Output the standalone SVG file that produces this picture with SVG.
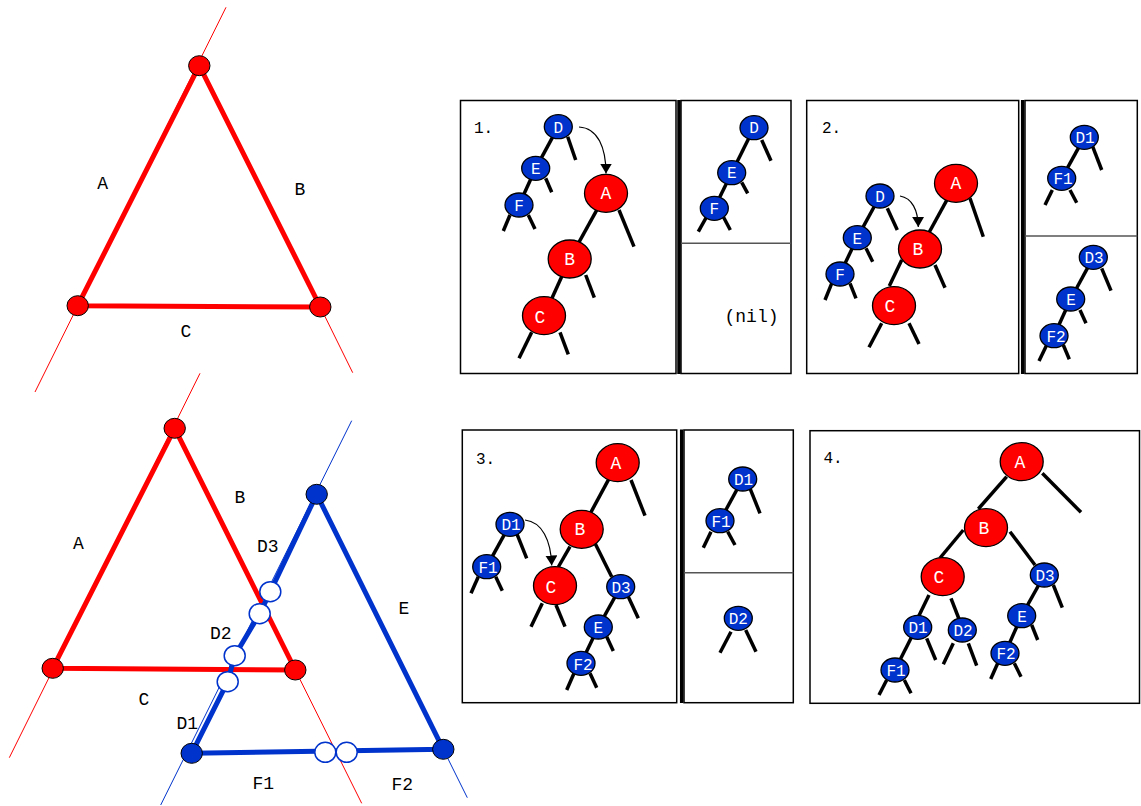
<svg xmlns="http://www.w3.org/2000/svg" width="1141" height="806" viewBox="0 0 1141 806">
<style>
.tr{stroke:#f00;stroke-width:1;fill:none}
.tb{stroke:#0033cc;stroke-width:1;fill:none}
.re{stroke:#f00;stroke-width:5;fill:none;stroke-linejoin:round}
.be{stroke:#0033cc;stroke-width:5;fill:none;stroke-linejoin:round}
.rv{fill:#f00;stroke:#000;stroke-width:1}
.bv{fill:#0033cc;stroke:#000;stroke-width:1}
.ho{fill:#fff;stroke:#0033cc;stroke-width:1.5}
.lb{font-family:"Liberation Mono",monospace;font-size:18px;fill:#000;text-anchor:middle}
.pn{fill:#fff;stroke:#000;stroke-width:1.5}
.sp{stroke:#000;stroke-width:3.5}
.dv{stroke:#555;stroke-width:1.5}
.e{stroke:#000;stroke-width:3.5;fill:none}
.sn{fill:#0033cc;stroke:#000;stroke-width:1.3}
.bn{fill:#f00;stroke:#000;stroke-width:1.3}
.nt{font-family:"Liberation Mono",monospace;font-size:16px;fill:#fff;text-anchor:middle}
.bt{font-family:"Liberation Mono",monospace;font-size:18px;fill:#fff;text-anchor:middle}
.num{font-family:"Liberation Mono",monospace;font-size:16px;fill:#000}
.arr{fill:none;stroke:#000;stroke-width:1.2;marker-end:url(#ah)}
</style>
<defs>
<marker id="ah" viewBox="0 0 10 12" refX="10" refY="6" markerWidth="10" markerHeight="12" markerUnits="userSpaceOnUse" orient="auto"><path d="M0,0 L10,6 L0,12 z" fill="#000"/></marker>
</defs>
<rect width="1141" height="806" fill="#fff"/>

<!-- Top-left triangle -->
<g id="tri1-connectors">
<line class="tr" x1="226" y1="7.3" x2="35" y2="392"/>
<line class="tr" x1="320.3" y1="307" x2="352.7" y2="372.7"/>
<polygon class="re" points="199.3,65.7 77.7,305.7 320.3,307"/>
</g>
<g id="tri1-top"><ellipse class="rv" cx="199.3" cy="65.7" rx="10.7" ry="10"/></g>
<g id="tri1-left"><ellipse class="rv" cx="77.7" cy="305.7" rx="10.7" ry="10"/></g>
<g id="tri1-right"><ellipse class="rv" cx="320.3" cy="307" rx="10.7" ry="10"/></g>
<g id="tri1-labels">
<text class="lb" x="102.7" y="188.5">A</text>
<text class="lb" x="300" y="194.5">B</text>
<text class="lb" x="186" y="337">C</text>
</g>

<!-- Bottom-left triangles -->
<g id="tri2-connectors">
<line class="tr" x1="200" y1="373.3" x2="9.3" y2="757.7"/>
<line class="tr" x1="295.3" y1="670" x2="361.7" y2="803.3"/>
<line class="tb" x1="351.7" y1="420.7" x2="160.7" y2="805"/>
<line class="tb" x1="443.3" y1="749.3" x2="467.3" y2="797.7"/>
<polygon class="re" points="174.7,428.3 52.7,668.3 295.3,670"/>
<polyline class="be" points="316.7,494.3 270.3,591.7 259.7,613.7 234.7,655.7 227.7,681.7 191.7,753.3 443.3,749.3 316.7,494.3"/>
</g>
<g id="tri2-red-top"><ellipse class="rv" cx="174.7" cy="428.3" rx="10.7" ry="10"/></g>
<g id="tri2-red-left"><ellipse class="rv" cx="52.7" cy="668.3" rx="10.7" ry="10"/></g>
<g id="tri2-red-right"><ellipse class="rv" cx="295.3" cy="670" rx="10.7" ry="10"/></g>
<g id="tri2-blue-top"><ellipse class="bv" cx="316.7" cy="494.3" rx="10.7" ry="10"/></g>
<g id="tri2-blue-left"><ellipse class="bv" cx="191.7" cy="753.3" rx="10.7" ry="10"/></g>
<g id="tri2-blue-right"><ellipse class="bv" cx="443.3" cy="749.3" rx="10.7" ry="10"/></g>
<g id="tri2-splits">
<ellipse class="ho" cx="270.3" cy="591.7" rx="10.5" ry="10"/>
<ellipse class="ho" cx="259.7" cy="613.7" rx="10.5" ry="10"/>
<ellipse class="ho" cx="234.7" cy="655.7" rx="10.5" ry="10"/>
<ellipse class="ho" cx="227.7" cy="681.7" rx="10.5" ry="10"/>
<ellipse class="ho" cx="325.3" cy="752.3" rx="10.5" ry="10"/>
<ellipse class="ho" cx="346.7" cy="752.3" rx="10.5" ry="10"/>
</g>
<g id="tri2-labels">
<text class="lb" x="78.3" y="549">A</text>
<text class="lb" x="240" y="503">B</text>
<text class="lb" x="267.7" y="552">D3</text>
<text class="lb" x="404" y="614">E</text>
<text class="lb" x="220.7" y="639">D2</text>
<text class="lb" x="144" y="705">C</text>
<text class="lb" x="187.3" y="729">D1</text>
<text class="lb" x="263.3" y="788.5">F1</text>
<text class="lb" x="402.3" y="790">F2</text>
</g>

<!-- Panel frames -->
<g id="panel-frames">
<rect class="pn" x="460.5" y="100.5" width="215.5" height="273"/>
<line class="sp" x1="679" y1="100" x2="679" y2="374"/>
<rect class="pn" x="681" y="100.5" width="110" height="273"/>
<line class="dv" x1="681" y1="243.3" x2="791" y2="243.3"/>
<text class="num" x="474" y="133">1.</text>

<rect class="pn" x="806.7" y="100.5" width="212" height="273"/>
<line class="sp" x1="1022.7" y1="100" x2="1022.7" y2="374"/>
<rect class="pn" x="1025" y="100.5" width="112.3" height="273"/>
<line class="dv" x1="1025" y1="236" x2="1137.3" y2="236"/>
<text class="num" x="822" y="133">2.</text>

<rect class="pn" x="462.3" y="430" width="214.4" height="272.7"/>
<line class="sp" x1="681.7" y1="429.5" x2="681.7" y2="703"/>
<rect class="pn" x="684" y="430" width="109.3" height="272.7"/>
<line class="dv" x1="684" y1="572.7" x2="793.3" y2="572.7"/>
<text class="num" x="476" y="464">3.</text>

<rect class="pn" x="810" y="430.7" width="329.5" height="272.6"/>
<text class="num" x="823.5" y="462.5">4.</text>
<text class="lb" x="751.5" y="321.5">(nil)</text>
</g>

<!-- Connectors -->
<g id="connectors">
<!-- panel 1 left -->
<line class="e" x1="558.3" y1="126.7" x2="535.7" y2="168.3"/>
<line class="e" x1="567.7" y1="136.7" x2="575.7" y2="160"/>
<line class="e" x1="545.7" y1="178.3" x2="551.7" y2="192.3"/>
<line class="e" x1="535.7" y1="168.3" x2="519" y2="205"/>
<line class="e" x1="510" y1="215" x2="503.3" y2="231"/>
<line class="e" x1="528.3" y1="215" x2="535" y2="229"/>
<line class="e" x1="606" y1="193.3" x2="569.7" y2="259"/>
<line class="e" x1="619" y1="210" x2="634" y2="246.7"/>
<line class="e" x1="569.7" y1="259" x2="544" y2="315.7"/>
<line class="e" x1="585.7" y1="275" x2="594.3" y2="297.7"/>
<line class="e" x1="531.7" y1="332.3" x2="519" y2="358.3"/>
<line class="e" x1="560" y1="332.3" x2="568.3" y2="354.3"/>
<path class="arr" d="M579,127 C598,128 606,148 606,173.5"/>
<!-- panel 1 right -->
<line class="e" x1="754" y1="127.7" x2="731.7" y2="172.7"/>
<line class="e" x1="761.7" y1="140" x2="771" y2="160.7"/>
<line class="e" x1="731.7" y1="172.7" x2="714.3" y2="208.3"/>
<line class="e" x1="741.7" y1="182.3" x2="747.7" y2="193.3"/>
<line class="e" x1="706.7" y1="216.7" x2="698.3" y2="231.7"/>
<line class="e" x1="723.3" y1="216.7" x2="730.3" y2="230"/>
<!-- panel 2 left -->
<line class="e" x1="880" y1="196" x2="857.3" y2="237.7"/>
<line class="e" x1="887.3" y1="208.3" x2="897.3" y2="230"/>
<line class="e" x1="866" y1="248.3" x2="872.7" y2="261.7"/>
<line class="e" x1="857.3" y1="237.7" x2="840" y2="274"/>
<line class="e" x1="831.7" y1="283.3" x2="825" y2="300"/>
<line class="e" x1="850" y1="283.3" x2="856" y2="298.3"/>
<line class="e" x1="956" y1="183.3" x2="920" y2="249"/>
<line class="e" x1="970" y1="198.3" x2="983.3" y2="236.7"/>
<line class="e" x1="901.7" y1="260" x2="889.3" y2="286"/>
<line class="e" x1="935" y1="265" x2="945" y2="287.7"/>
<line class="e" x1="881.7" y1="323.3" x2="869" y2="347.3"/>
<line class="e" x1="909" y1="323.3" x2="919" y2="344"/>
<path class="arr" d="M900,196 C912,198 918,210 918.3,227"/>
<!-- panel 2 right -->
<line class="e" x1="1084.3" y1="137.3" x2="1061.7" y2="178.3"/>
<line class="e" x1="1092.7" y1="146.7" x2="1101.7" y2="170"/>
<line class="e" x1="1052.3" y1="190" x2="1045" y2="205"/>
<line class="e" x1="1070" y1="190" x2="1076.7" y2="202.7"/>
<line class="e" x1="1093.3" y1="257.3" x2="1070.7" y2="299"/>
<line class="e" x1="1101.7" y1="268.3" x2="1111" y2="290.7"/>
<line class="e" x1="1070.7" y1="299" x2="1054" y2="335.7"/>
<line class="e" x1="1080" y1="310" x2="1086" y2="323.3"/>
<line class="e" x1="1046.7" y1="345" x2="1039" y2="361"/>
<line class="e" x1="1063.3" y1="345" x2="1069.3" y2="359.3"/>
<!-- panel 3 left -->
<line class="e" x1="617.7" y1="462.7" x2="581.7" y2="529.3"/>
<line class="e" x1="631" y1="480" x2="645" y2="515.7"/>
<line class="e" x1="570" y1="546.7" x2="558.3" y2="567"/>
<line class="e" x1="595" y1="543.3" x2="611.7" y2="576.7"/>
<line class="e" x1="620.7" y1="586.7" x2="598.3" y2="627"/>
<line class="e" x1="628.3" y1="596.7" x2="638.3" y2="618.3"/>
<line class="e" x1="606.7" y1="636.7" x2="613.3" y2="651"/>
<line class="e" x1="598.3" y1="627" x2="581" y2="663.3"/>
<line class="e" x1="574" y1="673.3" x2="566.7" y2="690"/>
<line class="e" x1="590" y1="673.3" x2="596.7" y2="687.7"/>
<line class="e" x1="542.3" y1="603.3" x2="531" y2="626.7"/>
<line class="e" x1="556" y1="605" x2="565" y2="626.7"/>
<line class="e" x1="510" y1="524.3" x2="486.7" y2="566.7"/>
<line class="e" x1="516.7" y1="533.3" x2="526.7" y2="558.3"/>
<line class="e" x1="478.3" y1="576.7" x2="471" y2="593.3"/>
<line class="e" x1="495.7" y1="576.7" x2="502.3" y2="590.7"/>
<path class="arr" d="M525,520 C542,522 551,540 551.7,565.5"/>
<!-- panel 3 right -->
<line class="e" x1="742.7" y1="479" x2="720" y2="520.7"/>
<line class="e" x1="750" y1="488.3" x2="760" y2="513.3"/>
<line class="e" x1="711" y1="531.7" x2="703.3" y2="547.7"/>
<line class="e" x1="727.7" y1="531.7" x2="735" y2="545"/>
<line class="e" x1="731" y1="631.7" x2="720" y2="652.7"/>
<line class="e" x1="745.7" y1="630" x2="756" y2="651.7"/>
<!-- panel 4 -->
<line class="e" x1="1006.7" y1="476.7" x2="978.3" y2="509"/>
<line class="e" x1="1042.3" y1="473.3" x2="1081" y2="512.3"/>
<line class="e" x1="963.3" y1="530" x2="940" y2="558"/>
<line class="e" x1="1010" y1="531.7" x2="1035" y2="565"/>
<line class="e" x1="929" y1="595" x2="918.3" y2="617"/>
<line class="e" x1="951" y1="598.3" x2="959" y2="619"/>
<line class="e" x1="911.7" y1="636.7" x2="900" y2="660"/>
<line class="e" x1="926.7" y1="638.3" x2="935.7" y2="660"/>
<line class="e" x1="886.7" y1="680" x2="879" y2="695"/>
<line class="e" x1="904.3" y1="680" x2="911" y2="693.3"/>
<line class="e" x1="953.3" y1="643.3" x2="943.3" y2="664.3"/>
<line class="e" x1="968.3" y1="643.3" x2="976.7" y2="665.7"/>
<line class="e" x1="1044.3" y1="575" x2="1021.7" y2="615.7"/>
<line class="e" x1="1053.3" y1="585" x2="1062.3" y2="607.7"/>
<line class="e" x1="1031.7" y1="625" x2="1037.7" y2="640"/>
<line class="e" x1="1021.7" y1="615.7" x2="1005" y2="653.3"/>
<line class="e" x1="997.7" y1="663.3" x2="990.7" y2="679"/>
<line class="e" x1="1014.3" y1="663.3" x2="1021" y2="676.7"/>
</g>

<!-- Panel 1 nodes -->
<g id="p1-D"><ellipse class="sn" cx="558.3" cy="126.7" rx="14" ry="12"/><text class="nt" x="558.3" y="132.5">D</text></g>
<g id="p1-E"><ellipse class="sn" cx="535.7" cy="168.3" rx="14" ry="12"/><text class="nt" x="535.7" y="174">E</text></g>
<g id="p1-F"><ellipse class="sn" cx="519" cy="205" rx="14" ry="12"/><text class="nt" x="519" y="210.5">F</text></g>
<g id="p1-A"><ellipse class="bn" cx="606" cy="193.3" rx="21.5" ry="19"/><text class="bt" x="606" y="199">A</text></g>
<g id="p1-B"><ellipse class="bn" cx="569.7" cy="259" rx="21.5" ry="19"/><text class="bt" x="569.7" y="265">B</text></g>
<g id="p1-C"><ellipse class="bn" cx="544" cy="315.7" rx="21.5" ry="19"/><text class="bt" x="540" y="323">C</text></g>
<g id="p1r-D"><ellipse class="sn" cx="754" cy="127.7" rx="14" ry="12"/><text class="nt" x="754" y="133">D</text></g>
<g id="p1r-E"><ellipse class="sn" cx="731.7" cy="172.7" rx="14" ry="12"/><text class="nt" x="731.7" y="178">E</text></g>
<g id="p1r-F"><ellipse class="sn" cx="714.3" cy="208.3" rx="14" ry="12"/><text class="nt" x="714.3" y="214">F</text></g>

<!-- Panel 2 nodes -->
<g id="p2-D"><ellipse class="sn" cx="880" cy="196" rx="14" ry="12"/><text class="nt" x="880" y="201.5">D</text></g>
<g id="p2-E"><ellipse class="sn" cx="857.3" cy="237.7" rx="14" ry="12"/><text class="nt" x="857.3" y="243.5">E</text></g>
<g id="p2-F"><ellipse class="sn" cx="840" cy="274" rx="14" ry="12"/><text class="nt" x="840" y="280">F</text></g>
<g id="p2-A"><ellipse class="bn" cx="956" cy="183.3" rx="21.5" ry="19"/><text class="bt" x="956" y="189">A</text></g>
<g id="p2-B"><ellipse class="bn" cx="920" cy="249" rx="21.5" ry="19"/><text class="bt" x="918" y="255">B</text></g>
<g id="p2-C"><ellipse class="bn" cx="894" cy="305.7" rx="21.5" ry="19"/><text class="bt" x="890" y="312">C</text></g>
<g id="p2r-D1"><ellipse class="sn" cx="1084.3" cy="137.3" rx="14" ry="12"/><text class="nt" x="1085" y="143">D1</text></g>
<g id="p2r-F1"><ellipse class="sn" cx="1061.7" cy="178.3" rx="14" ry="12"/><text class="nt" x="1063" y="184">F1</text></g>
<g id="p2r-D3"><ellipse class="sn" cx="1093.3" cy="257.3" rx="14" ry="12"/><text class="nt" x="1094" y="263">D3</text></g>
<g id="p2r-E"><ellipse class="sn" cx="1070.7" cy="299" rx="14" ry="12"/><text class="nt" x="1071" y="305">E</text></g>
<g id="p2r-F2"><ellipse class="sn" cx="1054" cy="335.7" rx="14" ry="12"/><text class="nt" x="1056" y="342">F2</text></g>

<!-- Panel 3 nodes -->
<g id="p3-A"><ellipse class="bn" cx="617.7" cy="462.7" rx="21.5" ry="19"/><text class="bt" x="616" y="468.5">A</text></g>
<g id="p3-B"><ellipse class="bn" cx="581.7" cy="529.3" rx="21.5" ry="19"/><text class="bt" x="580" y="535">B</text></g>
<g id="p3-C"><ellipse class="bn" cx="555" cy="585.7" rx="21.5" ry="19"/><text class="bt" x="551" y="592.5">C</text></g>
<g id="p3-D1"><ellipse class="sn" cx="510" cy="524.3" rx="14" ry="12"/><text class="nt" x="511" y="530">D1</text></g>
<g id="p3-F1"><ellipse class="sn" cx="486.7" cy="566.7" rx="14" ry="12"/><text class="nt" x="488" y="572.5">F1</text></g>
<g id="p3-D3"><ellipse class="sn" cx="620.7" cy="586.7" rx="14" ry="12"/><text class="nt" x="621" y="592.5">D3</text></g>
<g id="p3-E"><ellipse class="sn" cx="598.3" cy="627" rx="14" ry="12"/><text class="nt" x="598.3" y="633">E</text></g>
<g id="p3-F2"><ellipse class="sn" cx="581" cy="663.3" rx="14" ry="12"/><text class="nt" x="583" y="669.5">F2</text></g>
<g id="p3r-D1"><ellipse class="sn" cx="742.7" cy="479" rx="14" ry="12"/><text class="nt" x="743.5" y="485">D1</text></g>
<g id="p3r-F1"><ellipse class="sn" cx="720" cy="520.7" rx="14" ry="12"/><text class="nt" x="721" y="526.5">F1</text></g>
<g id="p3r-D2"><ellipse class="sn" cx="738.3" cy="618.3" rx="14" ry="12"/><text class="nt" x="738.3" y="624">D2</text></g>

<!-- Panel 4 nodes -->
<g id="p4-A"><ellipse class="bn" cx="1021.7" cy="461.7" rx="21.5" ry="19"/><text class="bt" x="1020" y="468">A</text></g>
<g id="p4-B"><ellipse class="bn" cx="986" cy="527.7" rx="21.5" ry="19"/><text class="bt" x="984" y="534">B</text></g>
<g id="p4-C"><ellipse class="bn" cx="942.7" cy="576.7" rx="21.5" ry="19"/><text class="bt" x="939" y="583">C</text></g>
<g id="p4-D3"><ellipse class="sn" cx="1044.3" cy="575" rx="14" ry="12"/><text class="nt" x="1045" y="581">D3</text></g>
<g id="p4-E"><ellipse class="sn" cx="1021.7" cy="615.7" rx="14" ry="12"/><text class="nt" x="1022" y="621.5">E</text></g>
<g id="p4-F2"><ellipse class="sn" cx="1005" cy="653.3" rx="14" ry="12"/><text class="nt" x="1006" y="659">F2</text></g>
<g id="p4-D1"><ellipse class="sn" cx="917.7" cy="627.3" rx="14" ry="12"/><text class="nt" x="918" y="633">D1</text></g>
<g id="p4-D2"><ellipse class="sn" cx="962.3" cy="630" rx="14" ry="12"/><text class="nt" x="963" y="636">D2</text></g>
<g id="p4-F1"><ellipse class="sn" cx="895" cy="670" rx="14" ry="12"/><text class="nt" x="896" y="676">F1</text></g>
</svg>
